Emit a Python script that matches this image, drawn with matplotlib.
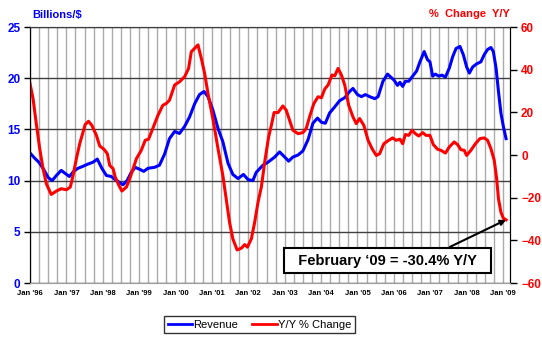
import matplotlib
matplotlib.use('Agg')
import matplotlib.pyplot as plt

# month index: 0 = Jan '96, 157 = Feb '09
rev_months = [0, 1.5, 2.9, 4.3, 6, 7.3, 8.7, 10.3, 11.6, 13, 14.4, 15.8, 17.5, 19, 20.8, 22.2,
              23.7, 25.2, 26.8, 28.1, 29.6, 30.7, 32, 33.4, 34.7, 36.2, 37.5, 38.9, 41.1, 42.7,
              44.4, 46, 47.7, 49.3, 51, 52.6, 54.3, 55.9, 57.4, 58.7, 60.3, 62, 63.6, 65.3,
              66.9, 68.6, 70.4, 71.9, 73.5, 74.6, 76.8, 78.5, 80.7, 82.3, 84, 85.3, 86.7, 88.4,
              90, 91.7, 93.3, 94.8, 96.1, 97.4, 98.8, 100.5, 102.1, 103.8, 105.4, 106.5, 108,
              109.3, 110.6, 112, 113.7, 114.8, 116.4, 117.9, 119.0, 120.1, 121.2, 122.0, 122.9,
              123.8, 124.9, 126.2, 127.5, 128.6, 130.0, 131.1, 131.9, 132.8, 133.7, 134.8,
              135.9, 137.0, 138.3, 139.4, 140.5, 141.8, 142.9, 144.0, 144.9, 146.0, 147.3,
              148.7, 149.8, 150.9, 152.0, 152.8, 153.7, 154.5, 155.3, 156.1, 157]
rev_values = [12.7, 12.2, 11.8, 11.2, 10.3, 10.0, 10.5, 11.0, 10.7, 10.4, 10.9, 11.2, 11.4, 11.6,
              11.8, 12.1, 11.2, 10.5, 10.4, 10.1, 9.8, 9.6, 10.0, 10.8, 11.3, 11.1, 10.9, 11.2,
              11.3, 11.5, 12.6, 14.1, 14.8, 14.6, 15.3, 16.2, 17.5, 18.4, 18.7, 18.2, 16.9,
              15.1, 13.8, 11.7, 10.6, 10.2, 10.6, 10.1, 10.0, 10.8, 11.5, 11.8, 12.3, 12.8,
              12.3, 11.9, 12.3, 12.5, 12.9, 14.0, 15.6, 16.1, 15.7, 15.6, 16.6, 17.2, 17.8,
              18.1, 18.7, 19.0, 18.4, 18.2, 18.4, 18.2, 18.0, 18.2, 19.7, 20.4, 20.1, 19.8,
              19.3, 19.6, 19.2, 19.7, 19.7, 20.2, 20.7, 21.6, 22.6, 21.8, 21.6, 20.2, 20.4,
              20.2, 20.3, 20.1, 21.0, 22.1, 22.9, 23.1, 22.3, 21.1, 20.5, 21.1, 21.4, 21.6,
              22.3, 22.8, 23.0, 22.6, 21.0, 18.7, 16.6, 15.3, 14.1]

yoy_months = [0, 1, 2, 3.2, 4.3, 5.4, 7, 8.7, 10.3, 12, 13.3, 14.2, 15.3, 16.4, 17.5, 18.2, 19.3,
              20.4, 21.9, 23, 24.4, 25.5, 26.3, 27.4, 28.1, 29.2, 30.3, 31.8, 32.9, 34, 35.1,
              36.7, 38, 39.1, 40.5, 42.2, 43.8, 44.9, 46, 47.7, 49.3, 51, 52.3, 53.2, 54.3,
              55.4, 56.5, 57.6, 58.7, 60.3, 62, 63.6, 64.7, 65.8, 66.9, 68.3, 69.7, 70.8, 71.7,
              73, 74.1, 75.2, 76.3, 77.4, 78.7, 79.6, 80.5, 81.8, 83.4, 84.5, 85.6, 86.7, 88.4,
              90, 91.1, 92.2, 93.6, 95, 96.1, 97.2, 98.3, 99.6, 100.5, 101.6, 102.7, 103.8,
              105.1, 106.5, 107.6, 108.7, 110.1, 111.5, 112.8, 114.2, 115.3, 116.7, 118.3,
              119.6, 120.7, 122.0, 122.9, 123.8, 124.9, 126.0, 127.1, 128.2, 129.5, 130.6,
              131.9, 133.0, 134.4, 135.5, 137.0, 138.3, 139.9, 141.0, 142.1, 143.2, 144.0,
              145.4, 146.9, 148.4, 149.8, 150.9, 152.0, 153.1, 153.9, 154.5, 155.3, 156.1, 157]
yoy_values = [33.5, 26.5, 15.5, 3.0, -6.4, -13.5, -18.5, -16.9, -15.8, -16.3, -15.0, -9.6, -1.7,
              5.3, 10.8, 14.3, 15.8, 13.9, 9.2, 4.2, 2.7, 0.6, -4.9, -6.4, -10.3, -13.9, -16.9,
              -15.0, -11.1, -6.4, -1.7, 2.2, 6.9, 7.4, 12.4, 18.6, 23.3, 24.1, 25.7, 32.8, 34.3,
              36.7, 40.6, 48.4, 50.0, 51.6, 45.3, 38.2, 28.8, 17.1, 3.0, -9.6, -20.5, -31.5,
              -39.3, -44.5, -43.7, -42.0, -43.2, -39.3, -31.5, -22.1, -15.0, -3.3, 8.5, 13.9,
              19.9, 19.9, 23.0, 21.0, 16.3, 11.6, 10.0, 10.5, 12.4, 17.9, 24.1, 27.3, 26.8,
              30.9, 32.8, 37.5, 37.1, 40.6, 37.5, 32.8, 23.3, 17.9, 14.7, 17.1, 13.9, 6.9, 3.0,
              -0.2, 0.6, 5.3, 6.9, 8.0, 6.9, 7.4, 5.3, 9.6, 9.2, 11.6, 10.0, 8.9, 10.5, 9.2,
              9.2, 4.9, 2.7, 2.2, 0.9, 3.8, 6.1, 4.9, 2.5, 2.2, -0.2, 2.2, 5.3, 7.7, 8.0, 6.9,
              3.0, -2.5, -11.1, -20.5, -26.8, -29.6, -30.4]

year_ticks = list(range(0, 157, 12))
year_labels = ["Jan '%02d" % (y % 100) for y in range(1996, 2010)]

plt.rcParams['font.family'] = ['Liberation Sans', 'DejaVu Sans']

fig = plt.figure(figsize=(5.42, 3.40), dpi=100)
ax = fig.add_axes([30 / 542, 57 / 340, 480 / 542, 256 / 340])
ax2 = ax.twinx()

# quarterly vertical grid, horizontal grid every 5 on the left scale
ax.set_xticks(year_ticks)
ax.set_xticks(range(0, 159, 3), minor=True)
ax.set_xticklabels(year_labels, fontsize=5.5, fontweight='bold')
ax.grid(True, which='both', axis='x', color='#ababab', lw=1)
ax.grid(True, which='major', axis='y', color='#404040', lw=1)
ax.set_axisbelow(True)
ax.tick_params(axis='x', which='both', length=0, pad=5)

ax.set_xlim(0, 158.3)
ax.set_ylim(0, 25)
ax.set_yticks(range(0, 26, 5))
ax.tick_params(axis='y', labelcolor='blue', color='black', labelsize=8.5, length=4, width=1, pad=3)
for t in ax.get_yticklabels():
    t.set_fontweight('bold')

ax2.set_ylim(-60, 60)
ax2.set_yticks(range(-60, 61, 20))
ax2.tick_params(axis='y', labelcolor='red', color='black', labelsize=8.5, length=5, width=1, pad=3)
for t in ax2.get_yticklabels():
    t.set_fontweight('bold')

for a in (ax, ax2):
    a.spines['left'].set_color('black')
    a.spines['right'].set_color('black')
    a.spines['top'].set_color('#404040')
    a.spines['bottom'].set_color('#a0a0a0')

l1, = ax.plot(rev_months, rev_values, color='#0000ff', lw=2.2, label='Revenue')
l2, = ax2.plot(yoy_months, yoy_values, color='#ff0000', lw=2.2, label='Y/Y % Change')

fig.text(32 / 542, 1 - 15 / 340, 'Billions/$', color='blue', fontsize=8, fontweight='bold',
         va='center', ha='left')
fig.text(510 / 542, 1 - 14 / 340, '%  Change  Y/Y', color='red', fontsize=8, fontweight='bold',
         va='center', ha='right')

ax2.annotate("  February \u201809 = -30.4% Y/Y  ", xy=(157, yoy_values[-1]),
             xytext=(387.5 / 542, 1 - 260.5 / 340), textcoords='figure fraction',
             ha='center', va='center', fontsize=10.5, fontweight='bold',
             bbox=dict(boxstyle='square,pad=0.4', fc='white', ec='black', lw=1.5),
             arrowprops=dict(arrowstyle='-|>', color='black', lw=1.5, mutation_scale=8,
                             shrinkA=0, shrinkB=0, relpos=(0.75, 1.0)))

leg = fig.legend(handles=[l1, l2], loc='center', bbox_to_anchor=(259.5 / 542, 1 - 324.5 / 340),
                 ncol=2, fontsize=8, frameon=True, fancybox=False, edgecolor='black',
                 handlelength=2.2, handletextpad=0.1, columnspacing=1.3, borderpad=0.3)
leg.get_frame().set_linewidth(1)
for h in leg.get_lines():
    h.set_linewidth(2)

fig.savefig('out.png', dpi=100)
